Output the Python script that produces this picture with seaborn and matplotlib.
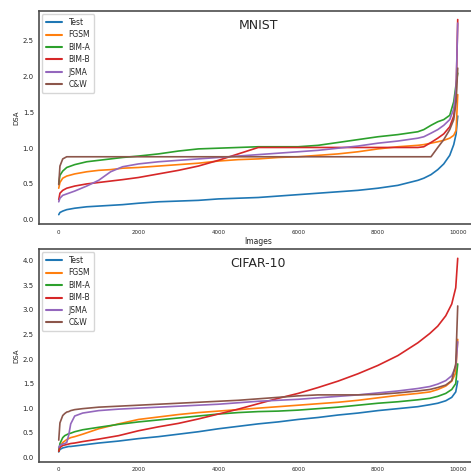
import numpy as np
import pandas as pd
import matplotlib
matplotlib.use("Agg")
import matplotlib.pyplot as plt
import seaborn as sns

# ------------------------------------------------------------
# data: sorted DSA values
# ------------------------------------------------------------
labels = ["Test", "FGSM", "BIM-A", "BIM-B", "JSMA", "C&W"]

mnist_x = [0, 30, 100, 200, 400, 700, 1000, 1300, 1600, 2000, 2500, 3000, 3500,
           4000, 4500, 5000, 5500, 6000, 6500, 7000, 7500, 8000, 8500, 9000,
           9150, 9330, 9500, 9650, 9800, 9900, 9960, 10000]

mnist_test = [0.07, 0.10, 0.12, 0.14, 0.16, 0.18, 0.19, 0.20, 0.21, 0.23, 0.25, 0.26, 0.27,
              0.29, 0.30, 0.31, 0.33, 0.35, 0.37, 0.39, 0.41, 0.44, 0.48, 0.55,
              0.58, 0.63, 0.70, 0.78, 0.90, 1.05, 1.20, 1.45]
mnist_fgsm = [0.44, 0.52, 0.58, 0.61, 0.64, 0.67, 0.69, 0.70, 0.72, 0.73, 0.75, 0.77, 0.79,
              0.82, 0.84, 0.85, 0.87, 0.88, 0.90, 0.92, 0.95, 0.99, 1.02, 1.04,
              1.05, 1.07, 1.09, 1.11, 1.14, 1.18, 1.25, 1.75]
mnist_bima = [0.50, 0.62, 0.68, 0.73, 0.77, 0.81, 0.83, 0.85, 0.87, 0.89, 0.92, 0.96, 0.99,
              1.00, 1.01, 1.02, 1.02, 1.02, 1.04, 1.08, 1.12, 1.16, 1.19, 1.23,
              1.26, 1.32, 1.37, 1.40, 1.46, 1.65, 1.90, 2.05]
mnist_bimb = [0.28, 0.37, 0.41, 0.44, 0.47, 0.50, 0.52, 0.54, 0.56, 0.59, 0.64, 0.69, 0.75,
              0.83, 0.92, 1.01, 1.01, 1.01, 1.01, 1.01, 1.01, 1.01, 1.01, 1.01,
              1.02, 1.08, 1.14, 1.20, 1.30, 1.45, 1.75, 2.80]
mnist_jsma = [0.25, 0.30, 0.34, 0.36, 0.40, 0.47, 0.55, 0.67, 0.74, 0.78, 0.81, 0.83, 0.85,
              0.87, 0.89, 0.91, 0.93, 0.95, 0.97, 1.00, 1.03, 1.07, 1.10, 1.14,
              1.16, 1.21, 1.26, 1.32, 1.40, 1.55, 1.85, 2.75]
mnist_cw = [0.49, 0.75, 0.85, 0.88, 0.88, 0.88, 0.88, 0.88, 0.88, 0.88, 0.88, 0.88, 0.88,
            0.88, 0.88, 0.88, 0.88, 0.88, 0.88, 0.88, 0.88, 0.88, 0.88, 0.88,
            0.88, 0.88, 1.01, 1.12, 1.26, 1.40, 1.65, 2.12]

cifar_x = [0, 30, 100, 150, 200, 250, 300, 400, 600, 1000, 1500, 2000, 2500, 3000,
           3500, 4000, 4500, 5000, 5500, 6000, 6500, 7000, 7500, 8000, 8500, 9000,
           9300, 9500, 9700, 9850, 9950, 10000]

cifar_test = [0.11, 0.16, 0.19, 0.20, 0.21, 0.22, 0.22, 0.23, 0.25, 0.29, 0.33, 0.38, 0.42, 0.47,
              0.52, 0.58, 0.63, 0.68, 0.72, 0.77, 0.81, 0.86, 0.90, 0.95, 0.99, 1.03,
              1.07, 1.10, 1.15, 1.22, 1.33, 1.55]
cifar_fgsm = [0.13, 0.22, 0.30, 0.33, 0.36, 0.38, 0.40, 0.42, 0.47, 0.58, 0.68, 0.77, 0.82, 0.87,
              0.91, 0.94, 0.97, 1.00, 1.03, 1.06, 1.09, 1.12, 1.16, 1.21, 1.26, 1.30,
              1.33, 1.38, 1.45, 1.55, 1.72, 2.40]
cifar_bima = [0.12, 0.28, 0.40, 0.44, 0.46, 0.48, 0.49, 0.52, 0.56, 0.61, 0.67, 0.72, 0.76, 0.80,
              0.84, 0.88, 0.91, 0.93, 0.94, 0.96, 0.99, 1.02, 1.06, 1.10, 1.13, 1.17,
              1.20, 1.24, 1.30, 1.38, 1.50, 1.90]
cifar_bimb = [0.12, 0.20, 0.24, 0.25, 0.26, 0.27, 0.28, 0.29, 0.32, 0.37, 0.44, 0.54, 0.62, 0.69,
              0.78, 0.88, 0.98, 1.09, 1.20, 1.30, 1.42, 1.55, 1.70, 1.87, 2.07, 2.33,
              2.52, 2.67, 2.88, 3.12, 3.45, 4.05]
cifar_jsma = [0.20, 0.24, 0.27, 0.28, 0.30, 0.45, 0.68, 0.84, 0.90, 0.95, 0.98, 1.00, 1.02, 1.04,
              1.06, 1.08, 1.11, 1.14, 1.16, 1.18, 1.21, 1.24, 1.27, 1.31, 1.35, 1.40,
              1.44, 1.49, 1.56, 1.66, 1.85, 2.35]
cifar_cw = [0.35, 0.70, 0.85, 0.89, 0.92, 0.93, 0.95, 0.97, 0.99, 1.02, 1.04, 1.06, 1.08, 1.10,
            1.12, 1.14, 1.16, 1.19, 1.22, 1.25, 1.27, 1.27, 1.27, 1.28, 1.31, 1.35,
            1.38, 1.42, 1.47, 1.56, 1.90, 3.08]

xticks = [0, 2000, 4000, 6000, 8000, 10000]


def long_frame(x, series):
    """Собрать длинную таблицу для sns.lineplot."""
    parts = [pd.DataFrame({"Images": x, "DSA": y, "set": name})
             for name, y in zip(labels, series)]
    return pd.concat(parts, ignore_index=True)


def draw_panel(ax, df, title, ylim, yticks, xlabel):
    sns.lineplot(data=df, x="Images", y="DSA", hue="set", hue_order=labels,
                 palette=sns.color_palette("tab10", 6), linewidth=1.2,
                 estimator=None, sort=False, ax=ax)
    leg = ax.legend(loc="upper left", fontsize=5.5, labelspacing=0.45,
                    handlelength=2.2, borderaxespad=0.4, borderpad=0.5,
                    framealpha=0.8, edgecolor="0.8")
    for ln in leg.get_lines():
        ln.set_linewidth(1.5)
    ax.text(0.5, 0.93, title, transform=ax.transAxes, ha="center",
            va="center", fontsize=9)
    ax.set_xlim(-502, 10491)
    ax.set_ylim(*ylim)
    ax.set_xticks(xticks)
    ax.set_yticks(yticks)
    ax.tick_params(axis="x", labelsize=4, length=2, width=0.6, pad=2)
    ax.tick_params(axis="y", labelsize=5, length=2, width=0.6, pad=1.5)
    ax.set_ylabel("DSA", fontsize=5, labelpad=2)
    if xlabel:
        ax.set_xlabel("Images", fontsize=5.5, labelpad=1.5)
    else:
        ax.set_xlabel("")
    for sp in ax.spines.values():
        sp.set_color("0.3")
        sp.set_linewidth(1.2)


sns.set_style("white")
plt.rcParams["font.family"] = ["DejaVu Sans"]

fig = plt.figure(figsize=(4.71, 4.73), dpi=100)
ax1 = fig.add_axes([0.0822, 0.5258, 0.9312, 0.451])
ax2 = fig.add_axes([0.0822, 0.0239, 0.9312, 0.4497])

mnist = long_frame(mnist_x, [mnist_test, mnist_fgsm, mnist_bima,
                             mnist_bimb, mnist_jsma, mnist_cw])
cifar = long_frame(cifar_x, [cifar_test, cifar_fgsm, cifar_bima,
                             cifar_bimb, cifar_jsma, cifar_cw])

draw_panel(ax1, mnist, "MNIST", (-0.065, 2.92), np.arange(0, 2.51, 0.5), True)
draw_panel(ax2, cifar, "CIFAR-10", (-0.09, 4.24), np.arange(0, 4.01, 0.5), False)

fig.savefig("out.png", dpi=100)
